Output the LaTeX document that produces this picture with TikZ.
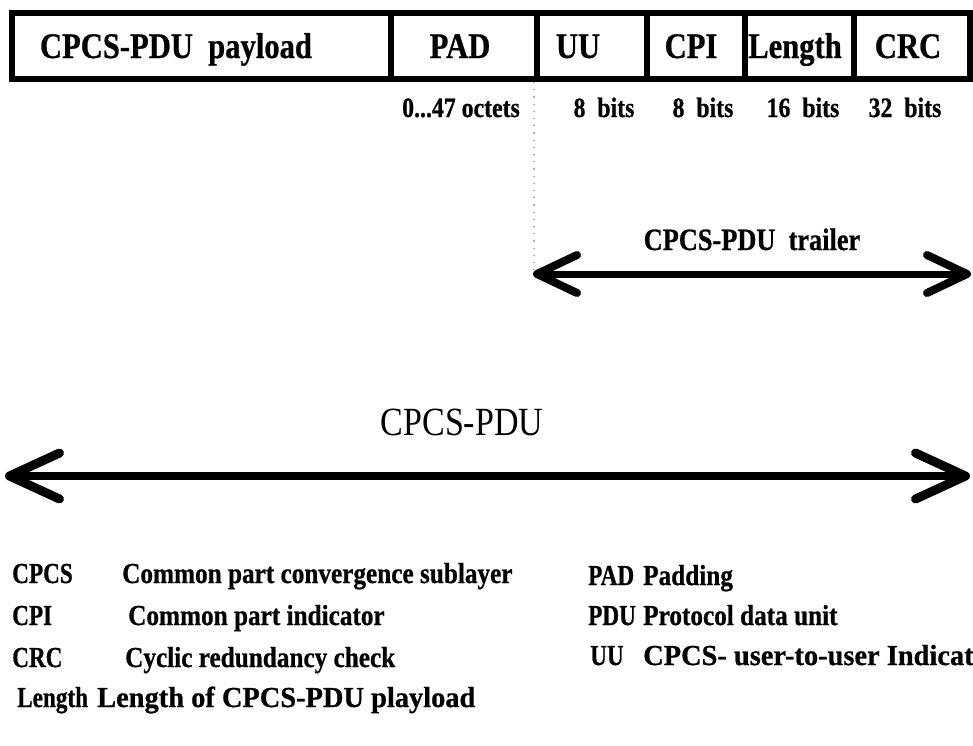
\documentclass[tikz,border=0pt]{standalone}
\usepackage{fontspec}
\setmainfont{Liberation Serif}
\newfontfamily\cond[FakeStretch=0.85]{Liberation Serif}
\newfontfamily\condb[FakeStretch=0.85, FakeBold=0.7, UprightFont=* Bold]{Liberation Serif}
\newfontfamily\legb[FakeStretch=0.87, FakeBold=0.7, UprightFont=* Bold]{Liberation Serif}
\newfontfamily\legn[FakeStretch=0.8, FakeBold=0.7, UprightFont=* Bold]{Liberation Serif}
\newfontfamily\legw[FakeStretch=0.98, FakeBold=0.7, UprightFont=* Bold]{Liberation Serif}
\usetikzlibrary{arrows.meta}
\begin{document}
\begin{tikzpicture}[x=1pt,y=-1pt,
  cell/.style={draw, line width=6pt, minimum height=66.5pt, inner sep=0pt},
  fieldlbl/.style={anchor=base, inner sep=0pt, font=\condb\fontsize{36}{40}\selectfont},
  sizelbl/.style={anchor=base, inner sep=0pt, font=\condb\fontsize{28}{32}\selectfont},
  leg/.style={anchor=base west, inner sep=0pt, font=\legb\fontsize{29}{33}\selectfont},
  legabbr/.style={anchor=base west, inner sep=0pt, font=\legn\fontsize{29}{33}\selectfont},
  legwide/.style={anchor=base west, inner sep=0pt, font=\legw\fontsize{29}{33}\selectfont},
  biglbl/.style={anchor=base, inner sep=0pt, font=\cond\fontsize{40}{44}\selectfont},
  trlbl/.style={anchor=base, inner sep=0pt, font=\condb\fontsize{31}{35}\selectfont},
  bigarrow/.style={line width=8pt,
    {Straight Barb[length=50pt,width=46pt,line width=9pt,round]}-{Straight Barb[length=50pt,width=46pt,line width=9pt,round]}},
  trarrow/.style={line width=7pt,
    {Straight Barb[length=40pt,width=38pt,line width=8pt,round]}-{Straight Barb[length=40pt,width=38pt,line width=8pt,round]}},
  guide/.style={gray!60, line width=1.2pt, dash pattern=on 1.2pt off 6pt}]
\useasboundingbox (0,0) rectangle (973,745);

% field cells
\node[cell, minimum width=379.5pt] (payload) at (201.25,45.75) {};
\node[cell, minimum width=146pt] (pad) at (464,45.75) {};
\node[cell, minimum width=110pt] (uu) at (592,45.75) {};
\node[cell, minimum width=98pt] (cpi) at (696,45.75) {};
\node[cell, minimum width=109pt] (len) at (799.5,45.75) {};
\node[cell, minimum width=116pt] (crc) at (912,45.75) {};

% field labels
\node[fieldlbl] (tpayload) at (176,58) {CPCS-PDU\ \ payload};
\node[fieldlbl] (tpad) at (460,58) {PAD};
\node[fieldlbl] (tuu) at (578,58) {UU};
\node[fieldlbl] (tcpi) at (691,58) {CPI};
\node[fieldlbl] (tlen) at (795,58) {Length};
\node[fieldlbl] (tcrc) at (908,58) {CRC};

% sizes
\node[sizelbl] (spad) at (461,117) {0...47 octets};
\node[sizelbl] (suu) at (604,117) {8\ \ bits};
\node[sizelbl] (scpi) at (703,117) {8\ \ bits};
\node[sizelbl] (slen) at (803,117) {16\ \ bits};
\node[sizelbl] (scrc) at (905,117) {32\ \ bits};

% trailer arrow
\coordinate (tl) at (533,274);
\coordinate (tr) at (971,274);
\draw[guide] (uu.south west) -- (uu.south west |- tl);
\draw[trarrow] (tl) -- (tr);
\node[trlbl] (trailer) at (752,250) {CPCS-PDU\ \ trailer};

% whole PDU arrow
\coordinate (pl) at (5,476);
\coordinate (pr) at (970,476);
\draw[bigarrow] (pl) -- (pr);
\node[biglbl] (pdu) at (462,435) {CPCS-PDU};

% legend left
\node[legabbr] (a1) at (12,583) {CPCS};
\node[leg] (d1) at (122,583) {Common part convergence sublayer};
\node[legabbr] (a2) at (12,625) {CPI};
\node[leg] (d2) at (128,625) {Common part indicator};
\node[legabbr] (a3) at (12,667) {CRC};
\node[leg] (d3) at (125,667) {Cyclic redundancy check};
\node[legabbr] (a4) at (17,707) {Length};
\node[legwide] (d4) at (97,707) {Length of CPCS-PDU playload};

% legend right
\node[legabbr] (a5) at (588,585) {PAD};
\node[leg] (d5) at (643,585) {Padding};
\node[legabbr] (a6) at (588,625) {PDU};
\node[leg] (d6) at (643,625) {Protocol data unit};
\node[legabbr] (a7) at (590,665) {UU};
\node[legwide] (d7) at (643,665) {CPCS- user-to-user Indicat};
\end{tikzpicture}
\end{document}
